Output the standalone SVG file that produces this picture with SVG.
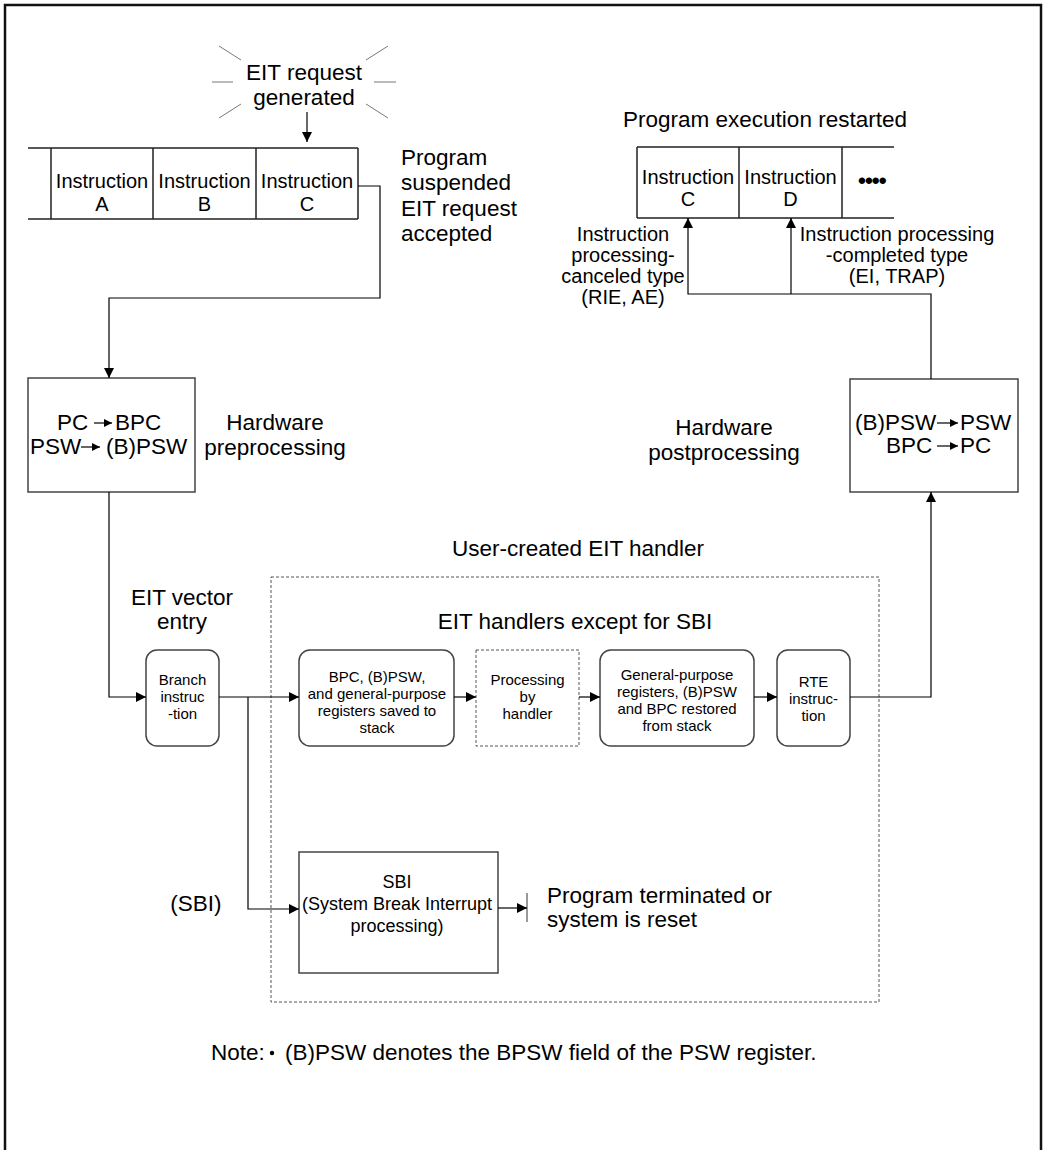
<svg xmlns="http://www.w3.org/2000/svg" width="1047" height="1150" viewBox="0 0 1047 1150">
<style>
text{font-family:"Liberation Sans",Arial,sans-serif;fill:#000}
.big{font-size:22.5px}
.mid{font-size:20px}
.sm{font-size:15px}
.sbi{font-size:18px}
.c{text-anchor:middle}
.box{fill:#fff;stroke:#444;stroke-width:1.5}
.dbox{fill:#fff;stroke:#555;stroke-width:1;stroke-dasharray:3 2}
.ln{fill:none;stroke:#000;stroke-width:1.2}
.row{fill:none;stroke:#222;stroke-width:1.5}
.ray{stroke:#777;stroke-width:1}
</style>
<defs>
<marker id="ah" viewBox="0 0 10 10" refX="10" refY="5" markerWidth="11" markerHeight="10" markerUnits="userSpaceOnUse" orient="auto"><path d="M0,0L10,5L0,10z" fill="#000"/></marker>
<marker id="sa" viewBox="0 0 10 10" refX="10" refY="5" markerWidth="9" markerHeight="8" markerUnits="userSpaceOnUse" orient="auto"><path d="M0,0L10,5L0,10z" fill="#000"/></marker>
</defs>
<rect x="5" y="5" width="1036" height="1160" fill="#fff" stroke="#111" stroke-width="2.5"/>

<g id="eit-request">
<line class="ray" x1="219" y1="46" x2="241" y2="60"/>
<line class="ray" x1="366" y1="60" x2="388" y2="46"/>
<line class="ray" x1="212" y1="82" x2="233" y2="82"/>
<line class="ray" x1="374" y1="82" x2="396" y2="82"/>
<line class="ray" x1="219" y1="118" x2="241" y2="104"/>
<line class="ray" x1="366" y1="104" x2="388" y2="118"/>
<text class="big c" x="304" y="80">EIT request</text>
<text class="big c" x="304" y="105">generated</text>
</g>

<g id="program-row">
<path class="row" d="M28,148H358M28,219H358M51,148V219M153,148V219M256,148V219M358,148V219"/>
<text class="mid c" x="102" y="188">Instruction</text><text class="mid c" x="102" y="211">A</text>
<text class="mid c" x="204.5" y="188">Instruction</text><text class="mid c" x="204.5" y="211">B</text>
<text class="mid c" x="307" y="188">Instruction</text><text class="mid c" x="307" y="211">C</text>
</g>

<g id="suspended-label">
<text class="big" x="401" y="165">Program</text>
<text class="big" x="401" y="190">suspended</text>
<text class="big" x="401" y="216">EIT request</text>
<text class="big" x="401" y="241">accepted</text>
</g>

<g id="restart-row">
<text class="big c" x="765" y="127">Program execution restarted</text>
<path class="row" d="M637,147H894M637,218H894M637,147V218M739,147V218M842,147V218"/>
<text class="mid c" x="688" y="184">Instruction</text><text class="mid c" x="688" y="206">C</text>
<text class="mid c" x="790.5" y="184">Instruction</text><text class="mid c" x="790.5" y="206">D</text>
<text class="big" x="858" y="188" style="font-weight:bold;letter-spacing:-1px">••••</text>
</g>

<g id="canceled-label">
<text class="mid c" x="623" y="241">Instruction</text>
<text class="mid c" x="623" y="262">processing-</text>
<text class="mid c" x="623" y="283">canceled type</text>
<text class="mid c" x="623" y="304">(RIE, AE)</text>
</g>
<g id="completed-label">
<text class="mid c" x="897" y="241">Instruction processing</text>
<text class="mid c" x="897" y="262">-completed type</text>
<text class="mid c" x="897" y="283">(EI, TRAP)</text>
</g>

<g id="preprocessing">
<rect class="box" x="28" y="378" width="167" height="114"/>
<text class="big" x="57" y="430">PC</text>
<line class="ln" x1="94" y1="423" x2="112" y2="423" marker-end="url(#sa)"/>
<text class="big" x="115" y="430">BPC</text>
<text class="big" x="30" y="454">PSW</text>
<line class="ln" x1="81" y1="447" x2="100" y2="447" marker-end="url(#sa)"/>
<text class="big" x="106" y="454">(B)PSW</text>
</g>
<g id="preprocessing-label">
<text class="big c" x="275" y="430">Hardware</text>
<text class="big c" x="275" y="455">preprocessing</text>
</g>

<g id="postprocessing">
<rect class="box" x="850" y="379" width="168" height="113"/>
<text class="big" x="855" y="430">(B)PSW</text>
<line class="ln" x1="937" y1="423" x2="958" y2="423" marker-end="url(#sa)"/>
<text class="big" x="960" y="430">PSW</text>
<text class="big" x="886" y="453">BPC</text>
<line class="ln" x1="937" y1="446" x2="958" y2="446" marker-end="url(#sa)"/>
<text class="big" x="960" y="453">PC</text>
</g>
<g id="postprocessing-label">
<text class="big c" x="724" y="435">Hardware</text>
<text class="big c" x="724" y="460">postprocessing</text>
</g>

<g id="user-handler">
<rect class="dbox" x="271" y="577" width="608" height="425" fill="none" style="fill:none"/>
<text class="big c" x="578" y="556">User-created EIT handler</text>
<text class="big c" x="575" y="629">EIT handlers except for SBI</text>
</g>

<g id="vector-label">
<text class="big c" x="182" y="605">EIT vector</text>
<text class="big c" x="182" y="629">entry</text>
</g>

<g id="branch">
<rect class="box" x="146" y="650" width="73" height="96" rx="11"/>
<text class="sm c" x="182.5" y="685">Branch</text>
<text class="sm c" x="182.5" y="702">instruc</text>
<text class="sm c" x="182.5" y="719">-tion</text>
</g>

<g id="save">
<rect class="box" x="299" y="650" width="155" height="96" rx="11"/>
<text class="sm c" x="377" y="682">BPC, (B)PSW,</text>
<text class="sm c" x="377" y="699">and general-purpose</text>
<text class="sm c" x="377" y="716">registers saved to</text>
<text class="sm c" x="377" y="733">stack</text>
</g>

<g id="processing">
<rect class="dbox" x="476" y="650" width="103" height="96"/>
<text class="sm c" x="527.5" y="685">Processing</text>
<text class="sm c" x="527.5" y="702">by</text>
<text class="sm c" x="527.5" y="719">handler</text>
</g>

<g id="restore">
<rect class="box" x="600" y="650" width="154" height="96" rx="11"/>
<text class="sm c" x="677" y="680">General-purpose</text>
<text class="sm c" x="677" y="697">registers, (B)PSW</text>
<text class="sm c" x="677" y="714">and BPC restored</text>
<text class="sm c" x="677" y="731">from stack</text>
</g>

<g id="rte">
<rect class="box" x="777" y="650" width="73" height="96" rx="11"/>
<text class="sm c" x="813.5" y="687">RTE</text>
<text class="sm c" x="813.5" y="704">instruc-</text>
<text class="sm c" x="813.5" y="721">tion</text>
</g>

<g id="sbi-label"><text class="big c" x="196" y="911">(SBI)</text></g>

<g id="sbi">
<rect class="box" x="299" y="852" width="199" height="121"/>
<text class="sbi c" x="397" y="888">SBI</text>
<text class="sbi c" x="397" y="910">(System Break Interrupt</text>
<text class="sbi c" x="397" y="932">processing)</text>
</g>

<g id="terminated">
<line x1="527" y1="893" x2="527" y2="922" stroke="#555" stroke-width="1.2"/>
<text class="big" x="547" y="903">Program terminated or</text>
<text class="big" x="547" y="927">system is reset</text>
</g>

<g id="connectors">
<line class="ln" x1="307" y1="112" x2="307" y2="142" marker-end="url(#ah)"/>
<polyline class="ln" points="358,186 380,186 380,298 109,298 109,378" marker-end="url(#ah)"/>
<polyline class="ln" points="109,492 109,697 146,697" marker-end="url(#ah)"/>
<line class="ln" x1="219" y1="697" x2="299" y2="697" marker-end="url(#ah)"/>
<polyline class="ln" points="248,697 248,909 299,909" marker-end="url(#ah)"/>
<line class="ln" x1="454" y1="697" x2="476" y2="697" marker-end="url(#ah)"/>
<line class="ln" x1="579" y1="697" x2="600" y2="697" marker-end="url(#ah)"/>
<line class="ln" x1="754" y1="697" x2="777" y2="697" marker-end="url(#ah)"/>
<polyline class="ln" points="850,697 931,697 931,492" marker-end="url(#ah)"/>
<polyline class="ln" points="931,379 931,294 688,294 688,218" marker-end="url(#ah)"/>
<line class="ln" x1="791" y1="294" x2="791" y2="218" marker-end="url(#ah)"/>
<line class="ln" x1="498" y1="908" x2="527" y2="908" marker-end="url(#ah)"/>
</g>

<g id="note">
<text class="big" x="211" y="1060">Note:</text>
<circle cx="272" cy="1053" r="2.2" fill="#000"/>
<text class="big" x="285" y="1060">(B)PSW denotes the BPSW field of the PSW register.</text>
</g>
</svg>
